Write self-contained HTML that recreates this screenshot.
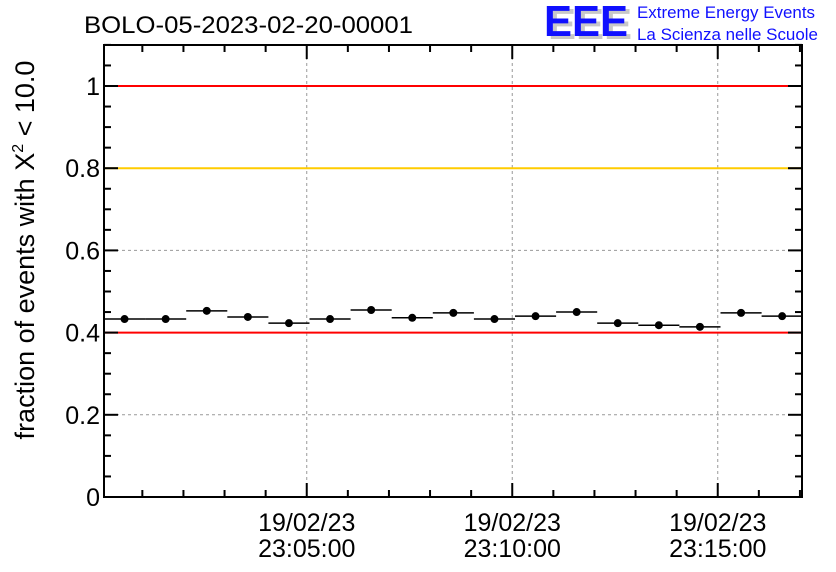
<!DOCTYPE html>
<html><head><meta charset="utf-8"><style>body{margin:0;background:#fff}svg{display:block}text{font-family:"Liberation Sans",sans-serif}</style></head>
<body>
<svg id="chart" width="836" height="572" xmlns="http://www.w3.org/2000/svg">
<rect width="836" height="572" fill="#fff"/>
<text x="84" y="33" font-size="24" textLength="329" lengthAdjust="spacingAndGlyphs">BOLO-05-2023-02-20-00001</text>
<g>
<text x="548" y="39" font-size="44" font-weight="bold" fill="#c8c8c8" textLength="84" lengthAdjust="spacingAndGlyphs">EEE</text>
<text x="544" y="36" font-size="44" font-weight="bold" fill="#1010ff" textLength="84" lengthAdjust="spacingAndGlyphs">EEE</text>
<text x="637" y="18" font-size="16.5" fill="#1010ff" textLength="178" lengthAdjust="spacingAndGlyphs">Extreme Energy Events</text>
<text x="637" y="40" font-size="16.5" fill="#1010ff" textLength="181" lengthAdjust="spacingAndGlyphs">La Scienza nelle Scuole</text>
</g>
<text transform="translate(34,250) rotate(-90)" text-anchor="middle" font-size="27">fraction of events with X<tspan font-size="16" dy="-11">2</tspan><tspan dy="11"> &lt; 10.0</tspan></text>
<g id="grid"></g><g id="refs"></g><g id="marks"></g><g id="axes"></g>
</svg>
<script>
const binMinutes = [0,1,2,3,4,5,6,7,8,9,10,11,12,13,14,15,16];
const fractions = [0.433,0.433,0.453,0.438,0.423,0.433,0.455,0.436,0.448,0.433,0.440,0.450,0.423,0.418,0.414,0.448,0.440];
const yTicks = [0,0.2,0.4,0.6,0.8,1];
const yTickLabels = ["0","0.2","0.4","0.6","0.8","1"];
const xMajorMinutes = [5,10,15];
const xTickLabels = [["19/02/23","23:05:00"],["19/02/23","23:10:00"],["19/02/23","23:15:00"]];
const refLines = [{v:1,c:"#ff0000"},{v:0.8,c:"#ffcc00"},{v:0.4,c:"#ff0000"}];

const L=104,R=802,T=45,B=497;
const startMin=0.067;
const minPx=41.1;
const X=m=>L+(m-startMin)*minPx;
const Y=v=>B-v*411;
const NS="http://www.w3.org/2000/svg";
function mk(tag,attrs,parent){const e=document.createElementNS(NS,tag);for(const k in attrs)e.setAttribute(k,attrs[k]);document.getElementById(parent).appendChild(e);return e;}

yTicks.slice(1).forEach(v=>{if(v===1||v===0.8||v===0.4)return;
 const g=mk('line',{x1:L,x2:R,y1:Y(v),y2:Y(v),stroke:'#999','stroke-dasharray':'3,3'},'grid');
 
 });
xMajorMinutes.forEach(m=>{const g=mk('line',{x1:X(m),x2:X(m),y1:T,y2:B,stroke:'#999','stroke-dasharray':'3,3'},'grid');
 
 });
refLines.forEach(r=>{const l=mk('line',{x1:L,x2:R,y1:Y(r.v),y2:Y(r.v),stroke:r.c,'stroke-width':2},'refs');
 
 });
binMinutes.forEach((m,i)=>{
 const cx=X(m+0.5+startMin), cy=Y(fractions[i]);
 const h=mk('line',{x1:X(m+startMin),x2:X(m+1+startMin),y1:cy,y2:cy,stroke:'#000','stroke-width':1.5},'marks');
 
 
 const c=mk('circle',{cx:cx,cy:cy,r:4,fill:'#000'},'marks');
 
 
});
const fr=mk('rect',{x:L,y:T,width:R-L,height:B-T,fill:'none',stroke:'#000','stroke-width':2},'axes');


for(let v=0;v<=1.1001;v+=0.05){const major=Math.abs(v/0.2-Math.round(v/0.2))<1e-6;const len=major?14:7;
 mk('line',{x1:L,x2:L+len,y1:Y(v),y2:Y(v),stroke:'#000','stroke-width':2},'axes');
 mk('line',{x1:R,x2:R-len,y1:Y(v),y2:Y(v),stroke:'#000','stroke-width':2},'axes');}
yTicks.forEach((v,i)=>{const t=mk('text',{x:L-4,y:Y(v)+9,'text-anchor':'end','font-size':25},'axes');t.textContent=yTickLabels[i];
 
 });
for(let m=1;m<=17;m++){const x=X(m);if(x>R)break;const major=m%5===0;const len=major?14:7;
 mk('line',{x1:x,x2:x,y1:B,y2:B-len,stroke:'#000','stroke-width':2},'axes');
 mk('line',{x1:x,x2:x,y1:T,y2:T+len,stroke:'#000','stroke-width':2},'axes');}
xMajorMinutes.forEach((m,i)=>{[0,1].forEach(j=>{const t=mk('text',{x:X(m),y:531+j*26,'text-anchor':'middle','font-size':25},'axes');t.textContent=xTickLabels[i][j];
 
 });});
</script>
</body></html>
